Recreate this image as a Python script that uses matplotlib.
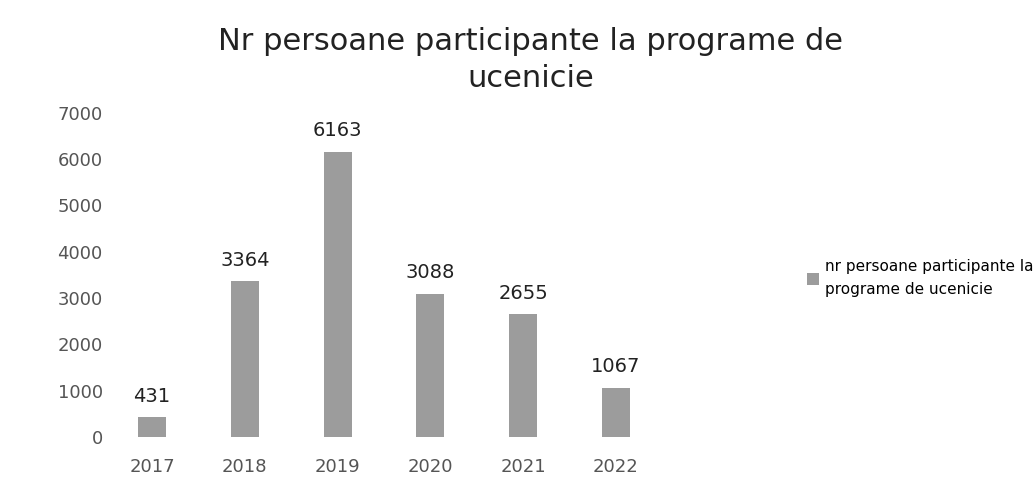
import matplotlib.pyplot as plt

# Date
ani = ['2017', '2018', '2019', '2020', '2021', '2022']
persoane = [431, 3364, 6163, 3088, 2655, 1067]
yticks = [0, 1000, 2000, 3000, 4000, 5000, 6000, 7000]

fig = plt.figure(figsize=(10.35, 4.95), dpi=100)
ax = fig.add_axes([0.102, 0.117, 0.538, 0.655])

bars = ax.bar(ani, persoane, width=0.3, color='#9c9c9c',
              label='nr persoane participante la\nprograme de ucenicie')

for b, v in zip(bars, persoane):
    ax.text(b.get_x() + b.get_width() / 2, v + 250, str(v),
            ha='center', va='bottom', fontsize=14, color='#222222')

ax.set_xlim(-0.5, 5.5)
ax.set_ylim(0, 7000)
ax.set_yticks(yticks)
ax.tick_params(axis='both', length=0, labelsize=13, colors='#555555')
ax.tick_params(axis='x', pad=15)
ax.tick_params(axis='y', pad=2)
for s in ax.spines.values():
    s.set_visible(False)

fig.suptitle('Nr persoane participante la programe de\nucenicie',
             x=0.513, y=0.945, fontsize=22, color='#222222', linespacing=1.35)

leg = ax.legend(loc='center left', bbox_to_anchor=(1.235, 0.49), frameon=False,
                fontsize=11, handlelength=0.8, handleheight=0.8,
                handletextpad=0.4)
for t in leg.get_texts():
    t.set_linespacing(1.7)

plt.savefig('out.png', dpi=100)
